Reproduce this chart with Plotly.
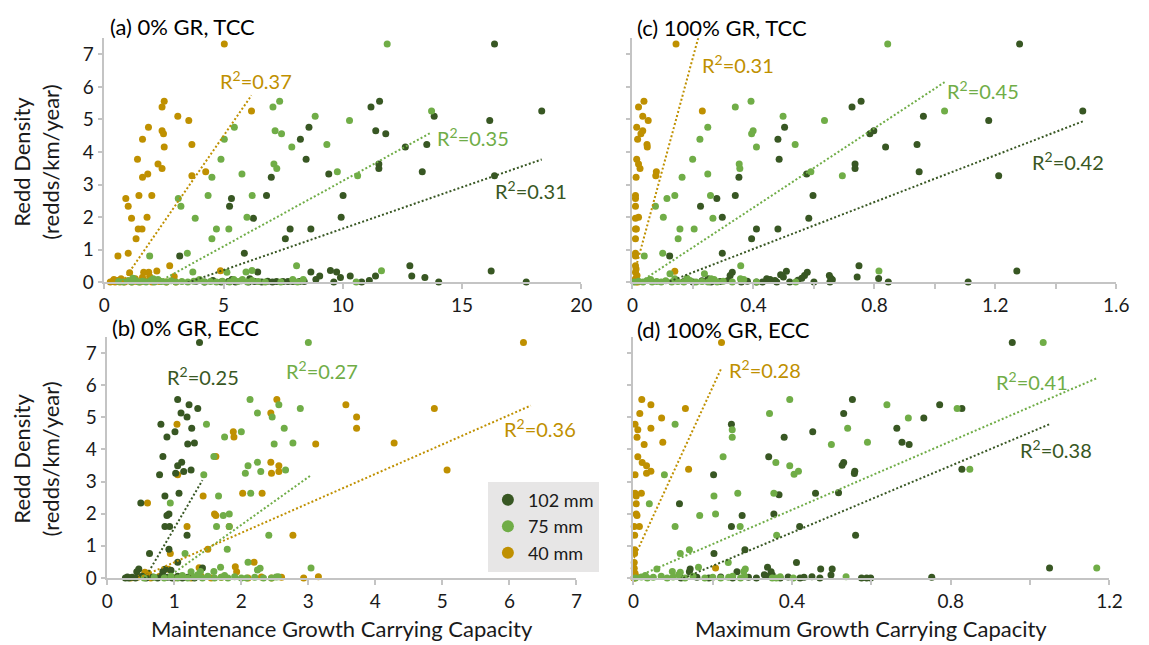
import numpy as np
import plotly.graph_objects as go

# Series order everywhere: 102 mm, 75 mm, 40 mm
SIZES = ["102 mm", "75 mm", "40 mm"]
COLORS = ["#385723", "#70AD47", "#BF9000"]

# ---------- (a) 0% GR, TCC : (carrying capacity, redd density) ----------
a_102 = [(16.36,7.32),(11.54,5.56),(11.18,5.38),(18.34,5.26),(13.83,5.10),(16.16,4.97),(8.58,4.76),
         (11.38,4.65),(11.80,4.56),(8.22,4.39),(13.52,4.23),(12.62,4.15),(8.46,3.78),(11.51,3.63),
         (11.51,3.49),(13.33,3.39),(9.41,3.32),(16.36,3.27),(7.00,3.22),(5.33,2.57),(5.25,2.33),
         (6.80,2.66),(10.01,2.66),(9.93,1.99),(6.25,1.96),(7.79,1.63),(8.66,1.63),(7.59,1.33),
         (5.87,0.89),(3.16,0.80),(12.81,0.50),(9.48,0.36),(9.74,0.31),(16.22,0.34),(8.66,0.31),
         (6.43,0.31),(12.89,0.19),(13.44,0.14),(9.03,0.19),(10.31,0.19),(9.90,0.14),(11.37,0.19),
         (11.11,0.05),(8.87,0.08),(9.62,0.0),(10.79,0.0),(14.02,0.0),(17.69,0.0),(7.22,0.02),
         (7.49,0.02),(7.70,0.02),(7.90,0.02),(8.18,0.02),(8.38,0.02),(3.85,0.03),(4.20,0.0),
         (4.55,0.05),(4.90,0.0),(5.20,0.02),(5.50,0.0),(5.75,0.04),(6.05,0.0),(6.30,0.02),
         (6.60,0.0),(6.85,0.03),(7.05,0.0),(5.35,0.08),(6.10,0.10)]
a_75 = [(11.86,7.32),(7.35,5.56),(7.07,5.38),(13.72,5.26),(8.84,5.10),(10.28,4.97),(5.45,4.76),
        (7.16,4.65),(7.43,4.56),(5.03,4.39),(9.33,4.23),(7.86,4.15),(4.89,3.78),(7.11,3.63),
        (7.23,3.49),(9.77,3.39),(5.77,3.32),(10.62,3.27),(4.51,3.22),(4.35,2.66),(6.20,2.66),
        (3.10,2.57),(3.21,2.33),(5.98,1.99),(3.81,1.96),(4.70,1.63),(5.22,1.63),(4.51,1.33),
        (3.48,0.89),(1.90,0.80),(8.06,0.50),(11.62,0.35),(3.71,0.31),(5.94,0.31),(6.19,0.36),
        (5.14,0.30),(3.99,0.08),(5.43,0.08),(5.79,0.08),(6.20,0.05),(7.90,0.08),(8.34,0.08),
        (10.56,0.0),(0.60,0.02),(0.80,0.0),(1.00,0.04),(1.15,0.0),(1.30,0.06),(1.45,0.0),
        (1.60,0.03),(1.75,0.0),(1.95,0.05),(2.10,0.0),(2.25,0.08),(2.40,0.02),(2.60,0.0),
        (2.80,0.04),(3.00,0.0),(3.25,0.02),(3.50,0.0),(3.75,0.03),(4.20,0.0),(4.45,0.02),
        (4.70,0.0),(4.95,0.03),(5.25,0.0),(5.60,0.02),(6.00,0.0),(6.45,0.02),(6.75,0.0),
        (7.40,0.0),(8.10,0.0),(2.05,0.10),(1.20,0.12)]
a_40 = [(5.03,7.32),(6.17,5.26),(2.51,5.56),(2.42,5.38),(3.08,5.10),(3.54,4.97),(1.85,4.76),
        (2.42,4.65),(2.48,4.56),(1.60,4.39),(3.67,4.23),(2.51,4.15),(1.39,3.78),(2.25,3.63),
        (2.42,3.49),(4.25,3.39),(1.82,3.32),(3.67,3.27),(1.60,3.22),(1.45,2.66),(1.99,2.66),
        (0.90,2.57),(1.00,2.33),(1.14,1.96),(1.79,1.99),(1.42,1.63),(1.58,1.63),(1.33,1.33),
        (1.00,0.89),(0.57,0.80),(2.74,0.50),(4.87,0.35),(1.06,0.29),(1.65,0.30),(1.86,0.30),
        (2.20,0.34),(2.93,0.17),(1.60,0.15),(1.90,0.17),(1.30,0.10),(0.25,0.0),(0.35,0.03),
        (0.45,0.0),(0.55,0.05),(0.65,0.0),(0.75,0.02),(0.85,0.0),(1.00,0.04),(1.15,0.0),
        (1.35,0.02),(1.50,0.0),(1.70,0.03),(2.00,0.0),(2.30,0.02),(2.60,0.0),(3.00,0.0),
        (0.40,0.08),(0.70,0.10)]
a_slope = [0.255, 0.402, 1.06]
a_icept = [-0.906, -0.91, -0.80]
a_r2 = [0.31, 0.35, 0.37]

# ---------- (c) 100% GR, TCC ----------
c_102 = [(1.280,7.32),(0.756,5.56),(0.726,5.38),(1.489,5.26),(0.962,5.10),(1.178,4.97),(0.503,4.76),
         (0.798,4.65),(0.785,4.56),(0.481,4.39),(0.941,4.23),(0.837,4.15),(0.485,3.78),(0.736,3.63),
         (0.736,3.49),(0.948,3.39),(0.576,3.32),(1.211,3.27),(0.352,3.22),(0.340,2.66),(0.597,2.66),
         (0.279,2.57),(0.225,2.33),(0.297,1.99),(0.583,1.96),(0.410,1.63),(0.481,1.63),(0.394,1.33),
         (0.297,0.89),(0.123,0.80),(0.749,0.50),(1.271,0.34),(0.509,0.33),(0.490,0.23),(0.499,0.16),
         (0.578,0.30),(0.569,0.20),(0.560,0.12),(0.547,0.06),(0.330,0.30),(0.323,0.20),(0.316,0.05),
         (0.444,0.10),(0.455,0.08),(0.471,0.05),(0.477,0.0),(0.651,0.20),(0.656,0.12),(0.661,0.07),
         (0.653,0.0),(0.743,0.16),(0.814,0.11),(0.846,0.0),(1.110,0.0),(0.410,0.0),(0.170,0.02),
         (0.200,0.0),(0.230,0.04),(0.260,0.0),(0.290,0.02),(0.360,0.0),(0.380,0.03),(0.430,0.0),
         (0.520,0.0),(0.600,0.0),(0.250,0.10)]
c_75 = [(0.844,7.32),(0.392,5.56),(0.340,5.38),(1.032,5.26),(0.498,5.10),(0.635,4.97),(0.249,4.76),
        (0.399,4.65),(0.394,4.56),(0.223,4.39),(0.538,4.23),(0.410,4.15),(0.199,3.78),(0.353,3.63),
        (0.355,3.49),(0.590,3.39),(0.249,3.32),(0.694,3.27),(0.164,3.22),(0.140,2.66),(0.258,2.66),
        (0.114,2.57),(0.076,2.33),(0.102,1.99),(0.266,1.96),(0.157,1.63),(0.204,1.63),(0.151,1.33),
        (0.100,0.89),(0.039,0.80),(0.358,0.50),(0.815,0.34),(0.124,0.26),(0.238,0.26),(0.260,0.10),
        (0.270,0.08),(0.357,0.10),(0.368,0.08),(0.540,0.0),(0.410,0.0),(0.280,0.0),(0.005,0.0),
        (0.020,0.03),(0.035,0.0),(0.050,0.05),(0.065,0.0),(0.080,0.02),(0.095,0.0),(0.110,0.04),
        (0.130,0.0),(0.150,0.02),(0.170,0.0),(0.190,0.05),(0.210,0.0),(0.230,0.02),(0.250,0.0),
        (0.300,0.03),(0.330,0.0),(0.060,0.08),(0.140,0.10),(0.180,0.12)]
c_40 = [(0.144,7.32),(0.231,5.26),(0.038,5.56),(0.020,5.38),(0.034,5.10),(0.052,4.97),(0.014,4.76),
        (0.034,4.65),(0.028,4.56),(0.017,4.39),(0.048,4.23),(0.049,4.15),(0.014,3.78),(0.020,3.63),
        (0.025,3.49),(0.079,3.39),(0.077,3.27),(0.012,3.22),(0.010,2.66),(0.010,2.57),(0.010,2.33),
        (0.020,1.99),(0.010,1.96),(0.010,1.63),(0.013,1.63),(0.010,1.33),(0.010,0.89),(0.010,0.80),
        (0.140,0.33),(0.010,0.50),(0.010,0.30),(0.010,0.10),(0.012,0.0),(0.015,0.20),(0.008,0.05),
        (0.018,0.0),(0.012,0.40)]
c_slope = [3.6, 6.1, 34.2]
c_icept = [-0.42, -0.15, 0.07]
c_r2 = [0.42, 0.45, 0.31]

# ---------- (b) 0% GR, ECC ----------
b_102 = [(1.376,7.33),(1.05,5.55),(1.22,5.39),(1.35,5.27),(1.10,5.13),(1.19,5.01),(0.80,4.78),
         (1.01,4.55),(0.89,4.39),(1.26,4.66),(1.30,4.20),(1.20,4.17),(0.83,3.78),(1.11,3.60),
         (1.05,3.49),(1.25,3.36),(1.14,3.31),(1.02,3.26),(0.78,3.21),(1.07,2.64),(0.86,2.55),
         (0.50,2.33),(0.92,1.99),(0.89,1.94),(0.86,1.60),(0.93,1.60),(1.19,1.33),(0.92,0.89),
         (0.63,0.76),(1.05,0.49),(1.42,0.31),(0.47,0.28),(0.44,0.19),(0.86,0.27),(0.83,0.20),
         (0.95,0.24),(0.27,0.0),(0.32,0.0),(0.37,0.02),(0.42,0.0),(0.52,0.05),(0.58,0.0),
         (0.68,0.03),(0.75,0.0),(0.82,0.08),(0.97,0.0),(1.05,0.05),(1.12,0.0),(1.20,0.02),
         (1.30,0.0),(0.30,0.03),(0.90,0.02)]
b_75 = [(3.00,7.33),(2.13,5.55),(2.56,5.39),(2.88,5.27),(2.24,5.13),(2.46,5.01),(1.48,4.78),
        (2.64,4.66),(2.00,4.55),(1.75,4.39),(2.77,4.20),(2.49,4.17),(1.59,3.78),(2.10,3.49),
        (2.24,3.60),(2.29,3.31),(2.06,3.26),(2.66,3.36),(1.44,3.21),(2.14,2.64),(1.66,2.55),
        (0.94,2.33),(1.82,1.99),(1.73,1.94),(1.63,1.60),(1.82,1.60),(2.41,1.33),(1.79,0.89),
        (1.16,0.76),(2.10,0.49),(3.04,0.31),(1.69,0.33),(2.28,0.30),(2.24,0.25),(1.59,0.20),
        (1.39,0.20),(1.25,0.19),(2.08,0.0),(2.33,0.0),(2.45,0.0),(2.52,0.03),(2.55,0.04),
        (0.55,0.0),(0.70,0.02),(0.85,0.0),(0.95,0.05),(1.05,0.0),(1.12,0.08),(1.20,0.0),
        (1.30,0.03),(1.42,0.0),(1.50,0.05),(1.60,0.0),(1.70,0.02),(1.80,0.0),(1.90,0.04),
        (2.00,0.0),(2.20,0.02),(1.35,0.10),(1.75,0.08)]
b_40 = [(6.21,7.33),(2.53,5.55),(3.56,5.39),(4.88,5.27),(2.44,5.13),(3.72,5.01),(1.04,4.78),
        (3.72,4.66),(1.88,4.55),(1.89,4.39),(4.28,4.20),(3.11,4.17),(1.62,3.78),(2.44,3.60),
        (2.56,3.49),(5.07,3.36),(2.56,3.31),(2.45,3.26),(1.05,3.21),(1.43,2.55),(2.02,2.64),
        (2.31,2.64),(0.60,2.33),(1.60,1.99),(1.62,1.94),(1.19,1.60),(1.82,1.60),(2.77,1.33),
        (1.50,0.89),(0.94,0.76),(2.19,0.49),(6.32,0.31),(2.93,0.0),(3.15,0.04),(0.56,0.18),
        (0.61,0.15),(0.91,0.27),(1.37,0.32),(1.93,0.19),(1.91,0.35),(0.35,0.0),(0.45,0.02),
        (0.65,0.0),(0.78,0.05),(1.00,0.0),(1.10,0.03),(1.25,0.0),(1.40,0.05),(1.55,0.0),
        (1.70,0.02),(2.10,0.0),(2.30,0.03),(2.45,0.0),(2.60,0.02)]
b_slope = [3.55, 1.486, 0.917]
b_icept = [-2.0, -1.32, -0.43]
b_r2 = [0.25, 0.27, 0.36]

# ---------- (d) 100% GR, ECC ----------
d_102 = [(0.955,7.33),(0.552,5.55),(0.530,5.12),(0.772,5.39),(0.828,5.27),(0.732,4.98),(0.247,4.78),
         (0.664,4.66),(0.452,4.55),(0.380,4.38),(0.677,4.22),(0.695,4.15),(0.341,3.77),(0.530,3.59),
         (0.526,3.51),(0.828,3.38),(0.558,3.32),(0.557,3.25),(0.202,3.21),(0.367,2.59),(0.459,2.64),
         (0.517,2.65),(0.116,2.31),(0.274,1.94),(0.354,1.99),(0.247,1.60),(0.419,1.60),(0.560,1.33),
         (0.281,0.88),(0.203,0.76),(0.411,0.48),(1.049,0.31),(0.752,0.02),(0.338,0.33),(0.472,0.28),
         (0.501,0.28),(0.498,0.09),(0.143,0.28),(0.141,0.19),(0.261,0.19),(0.347,0.19),(0.350,0.09),
         (0.330,0.10),(0.340,0.05),(0.575,0.0),(0.588,0.0),(0.598,0.0),(0.450,0.04),(0.430,0.02),
         (0.420,0.0),(0.120,0.0),(0.160,0.02),(0.190,0.0),(0.220,0.03),(0.250,0.0),(0.290,0.02),
         (0.310,0.0),(0.370,0.0),(0.390,0.03),(0.470,0.0)]
d_75 = [(1.033,7.33),(0.394,5.55),(0.639,5.39),(0.816,5.27),(0.343,5.12),(0.693,4.98),(0.105,4.78),
        (0.249,4.61),(0.249,4.38),(0.540,4.66),(0.499,4.15),(0.590,4.22),(0.226,3.77),(0.359,3.59),
        (0.394,3.49),(0.405,3.23),(0.416,3.32),(0.848,3.38),(0.078,3.21),(0.203,2.55),(0.263,2.64),
        (0.354,2.64),(0.040,2.31),(0.167,1.94),(0.207,1.99),(0.105,1.60),(0.269,1.60),(0.361,1.33),
        (0.118,0.76),(0.141,0.88),(0.239,0.48),(1.168,0.31),(0.164,0.33),(0.282,0.28),(0.278,0.20),
        (0.059,0.28),(0.098,0.20),(0.118,0.18),(0.114,0.10),(0.536,0.04),(0.403,0.0),(0.280,0.05),
        (0.270,0.0),(0.240,0.02),(0.250,0.05),(0.350,0.0),(0.360,0.0),(0.370,0.04),(0.005,0.0),
        (0.020,0.03),(0.035,0.0),(0.050,0.02),(0.070,0.05),(0.085,0.0),(0.100,0.03),(0.130,0.0),
        (0.150,0.05),(0.180,0.0),(0.200,0.02),(0.220,0.0),(0.030,0.08)]
d_40 = [(0.222,7.33),(0.021,5.55),(0.044,5.39),(0.016,5.12),(0.131,5.27),(0.071,4.98),(0.004,4.78),
        (0.011,4.61),(0.009,4.38),(0.044,4.66),(0.074,4.22),(0.027,4.15),(0.011,3.77),(0.022,3.59),
        (0.033,3.49),(0.033,3.26),(0.044,3.32),(0.139,3.38),(0.004,3.21),(0.004,2.64),(0.020,2.64),
        (0.007,2.55),(0.007,2.31),(0.007,1.99),(0.009,1.94),(0.002,1.60),(0.015,1.60),(0.003,1.33),
        (0.003,0.88),(0.003,0.76),(0.207,0.31),(0.002,0.48),(0.002,0.30),(0.004,0.15),(0.001,0.0),
        (0.006,0.05),(0.003,0.0)]
d_slope = [5.19, 5.33, 26.8]
d_icept = [-0.66, -0.01, 0.59]
d_r2 = [0.38, 0.41, 0.28]

# ---------- layout of the four panels ----------
W, H = 1149, 645
FONT = "Lato, 'Open Sans', sans-serif"
INK = "#1a1a1a"
AXIS = "#c4c4c4"
TICK_SIZE = 19


def px_x(p):
    return p / W


def px_y(p):
    return 1 - p / H


panels = [
    dict(sfx="", series=[a_102, a_75, a_40], slope=a_slope, icept=a_icept, r2=a_r2,
         title="(a) 0% GR, TCC", tpos=(104, 27),
         dom_x=(100, 585), dom_y=(287, 38.8), xr=[0, 20], dtick=5, minor=None,
         ylabels=True, legend=False,
         lab=[(17.9, 2.82), (15.45, 4.45), (6.36, 6.2)]),
    dict(sfx="2", series=[c_102, c_75, c_40], slope=c_slope, icept=c_icept, r2=c_r2,
         title="(c) 100% GR, TCC", tpos=(640, 28),
         dom_x=(637, 1129), dom_y=(287, 38.8), xr=[0, 1.6], dtick=0.4, minor=0.2,
         ylabels=False, legend=False,
         lab=[(1.44, 3.73), (1.16, 5.9), (0.35, 6.7)]),
    dict(sfx="3", series=[b_102, b_75, b_40], slope=b_slope, icept=b_icept, r2=b_r2,
         title="(b) 0% GR, ECC", tpos=(106, 333),
         dom_x=(103, 580), dom_y=(588, 342.8), xr=[0, 7], dtick=1, minor=None,
         ylabels=True, legend=True,
         lab=[(1.43, 6.3), (3.20, 6.46), (6.46, 4.66)]),
    dict(sfx="4", series=[d_102, d_75, d_40], slope=d_slope, icept=d_icept, r2=d_r2,
         title="(d) 100% GR, ECC", tpos=(640, 335),
         dom_x=(638, 1122), dom_y=(588, 342.8), xr=[0, 1.2], dtick=0.4, minor=0.2,
         ylabels=False, legend=False,
         lab=[(1.066, 4.0), (1.005, 6.14), (0.332, 6.49)]),
]

fig = go.Figure()
annotations = []
draw_order = [2, 0, 1]  # gold underneath, light green on top

for p in panels:
    xa, ya = "x" + p["sfx"], "y" + p["sfx"]
    for i in draw_order:
        pts = p["series"][i]
        xs = [q[0] for q in pts]
        ys = [q[1] for q in pts]
        fig.add_trace(go.Scatter(
            x=xs, y=ys, mode="markers", xaxis=xa, yaxis=ya,
            name=SIZES[i], legendgroup=SIZES[i], legendrank=i + 1,
            showlegend=p["legend"], cliponaxis=False,
            marker=dict(size=7, color=COLORS[i], line=dict(width=0)),
            hoverinfo="x+y"))
    # linear trendlines over each series' x-range
    for i in range(3):
        xs = np.array([q[0] for q in p["series"][i]])
        lx = np.array([xs.min(), xs.max()])
        ly = p["slope"][i] * lx + p["icept"][i]
        fig.add_trace(go.Scatter(
            x=lx, y=ly, mode="lines", xaxis=xa, yaxis=ya, showlegend=False,
            line=dict(color=COLORS[i], width=2, dash="2px,2.2px"), hoverinfo="skip"))
        lx0, ly0 = p["lab"][i]
        annotations.append(dict(
            x=lx0, y=ly0, xref=xa, yref=ya, xanchor="center", yanchor="middle",
            showarrow=False, text=f"R<sup>2</sup>={p['r2'][i]:.2f}",
            font=dict(family=FONT, size=20, color=COLORS[i])))
    annotations.append(dict(
        x=px_x(p["tpos"][0]), y=px_y(p["tpos"][1]), xref="paper", yref="paper",
        xanchor="left", yanchor="middle", showarrow=False, text=p["title"],
        font=dict(family=FONT, size=22, color="#000000")))

    xkey = "xaxis" + p["sfx"]
    ykey = "yaxis" + p["sfx"]
    xaxis = dict(
        domain=[px_x(p["dom_x"][0]), px_x(p["dom_x"][1])], anchor=ya,
        range=p["xr"], dtick=p["dtick"], tick0=0, showgrid=False, zeroline=False,
        showline=True, linecolor=AXIS, linewidth=1.5,
        ticks="outside", ticklen=5, tickcolor=AXIS, tickwidth=1.5,
        tickfont=dict(family=FONT, size=TICK_SIZE, color=INK), fixedrange=True)
    if p["minor"]:
        xaxis["minor"] = dict(dtick=p["minor"], tick0=0, ticks="outside", ticklen=5,
                              tickcolor=AXIS, tickwidth=1.5, showgrid=False)
    yaxis = dict(
        domain=[px_y(p["dom_y"][0]), px_y(p["dom_y"][1])], anchor=xa,
        range=[0, 7.5], tickvals=list(range(8)), showgrid=False, zeroline=False,
        showline=True, linecolor=AXIS, linewidth=1.5,
        ticks="outside", ticklen=5, tickcolor=AXIS, tickwidth=1.5,
        showticklabels=p["ylabels"],
        tickfont=dict(family=FONT, size=TICK_SIZE, color=INK), fixedrange=True)
    fig.update_layout({xkey: xaxis, ykey: yaxis})

# axis titles
for yc in (165, 467):
    annotations.append(dict(
        x=px_x(31), y=px_y(yc), xref="paper", yref="paper", showarrow=False,
        xanchor="center", yanchor="middle",
        textangle=-90, text="Redd Density<br>(redds/km/year)",
        font=dict(family=FONT, size=22, color=INK)))
annotations.append(dict(
    x=px_x((103 + 580) / 2), y=px_y(639), xref="paper", yref="paper", showarrow=False,
    xanchor="center", yanchor="middle",
    text="Maintenance Growth Carrying Capacity", font=dict(family=FONT, size=22, color=INK)))
annotations.append(dict(
    x=px_x((638 + 1122) / 2), y=px_y(639), xref="paper", yref="paper", showarrow=False,
    xanchor="center", yanchor="middle",
    text="Maximum Growth Carrying Capacity", font=dict(family=FONT, size=22, color=INK)))

fig.update_layout(
    width=W, height=H, autosize=False,
    margin=dict(l=0, r=0, t=0, b=0),
    paper_bgcolor="white", plot_bgcolor="white",
    font=dict(family=FONT, color=INK),
    annotations=annotations,
    showlegend=True,
    legend=dict(x=px_x(490), y=px_y(490), xanchor="left", yanchor="top",
                bgcolor="#e7e6e6", borderwidth=0, tracegroupgap=0,
                font=dict(family=FONT, size=18, color=INK), itemsizing="constant"),
)

fig.write_html("out.html")
